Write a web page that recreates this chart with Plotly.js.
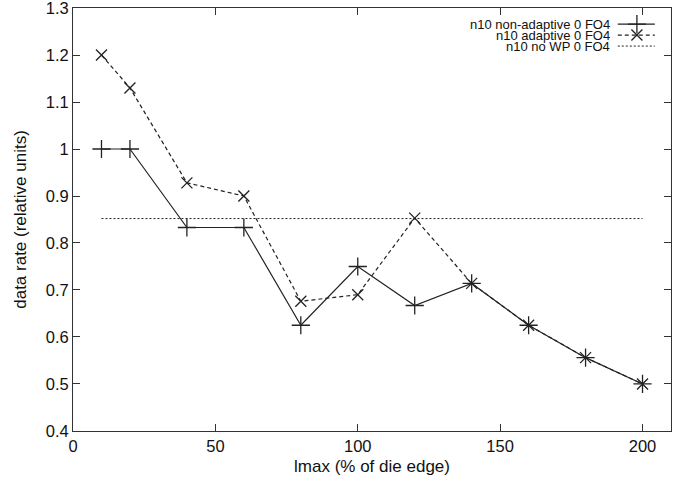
<!DOCTYPE html>
<html><head><meta charset="utf-8">
<script src="https://cdn.plot.ly/plotly-3.0.1.min.js"></script>
<style>html,body{margin:0;padding:0;background:#fff}#plot{width:690px;height:482px}</style>
</head><body><div id="plot"></div>
<script>
const xVals = [10, 20, 40, 60, 80, 100, 120, 140, 160, 180, 200];
const nonAdaptive = [1.0, 1.0, 0.833, 0.833, 0.625, 0.75, 0.667, 0.714, 0.625, 0.556, 0.5];
const adaptive = [1.2, 1.13, 0.928, 0.9, 0.676, 0.69, 0.853, 0.714, 0.625, 0.556, 0.5];
const noWPx = [10, 200];
const noWP = [0.852, 0.852];
const seriesNames = ["n10 non-adaptive 0 FO4", "n10 adaptive 0 FO4", "n10 no WP 0 FO4"];
const xTicks = [0, 50, 100, 150, 200];
const yTicks = [0.4, 0.5, 0.6, 0.7, 0.8, 0.9, 1.0, 1.1, 1.2, 1.3];
const yTickText = ["0.4", "0.5", "0.6", "0.7", "0.8", "0.9", "1", "1.1", "1.2", "1.3"];

const col = '#222';
const legY = [0.962, 0.936, 0.910];
const legMarkX = 0.943;
const traces = [
  {x: xVals, y: nonAdaptive, mode: 'lines+markers', name: seriesNames[0],
   line: {color: col, width: 1.2},
   marker: {symbol: 'cross-thin', size: 13, line: {color: col, width: 1.3}}},
  {x: xVals, y: adaptive, mode: 'lines+markers', name: seriesNames[1],
   line: {color: col, width: 1.2, dash: '4px,3px'},
   marker: {symbol: 'x-thin', size: 11, line: {color: col, width: 1.3}}},
  {x: noWPx, y: noWP, mode: 'lines', name: seriesNames[2],
   line: {color: col, width: 1, dash: '2px,2px'}},
  // legend samples on an overlay axis spanning the plot area
  {x: [legMarkX], y: [legY[0]], xaxis: 'x2', yaxis: 'y2', mode: 'markers', hoverinfo: 'skip',
   marker: {symbol: 'cross-thin', size: 13, line: {color: col, width: 1.3}}},
  {x: [legMarkX], y: [legY[1]], xaxis: 'x2', yaxis: 'y2', mode: 'markers', hoverinfo: 'skip',
   marker: {symbol: 'x-thin', size: 11, line: {color: col, width: 1.3}}}
];

const annotations = seriesNames.map((n, i) => ({
  xref: 'x2', yref: 'y2', x: 0.9, y: legY[i], text: n, showarrow: false,
  xanchor: 'right', yanchor: 'middle', borderpad: 0, font: {size: 13, color: '#111'}
}));
const shapes = seriesNames.map((n, i) => ({
  type: 'line', xref: 'x2', yref: 'y2', x0: 0.911, x1: 0.973, y0: legY[i], y1: legY[i],
  line: {color: col, width: i === 2 ? 1 : 1.2, dash: i === 1 ? '4px,3px' : (i === 2 ? '2px,2px' : 'solid')}
}));

const layout = {
  width: 690, height: 482,
  margin: {l: 73, r: 19, t: 8, b: 51},
  paper_bgcolor: '#fff', plot_bgcolor: '#fff',
  showlegend: false,
  font: {family: 'Liberation Sans, Arial, sans-serif', color: '#111'},
  xaxis: {range: [0, 210], tickvals: xTicks, ticks: 'inside', ticklen: 7, tickcolor: '#333',
    showline: true, linecolor: '#333', linewidth: 1, mirror: 'ticks', showgrid: false, zeroline: false,
    ticklabeloverflow: 'allow',
    tickfont: {size: 16.5}, title: {text: 'lmax (% of die edge)', font: {size: 17}, standoff: 6}},
  yaxis: {range: [0.3999, 1.3001], tickvals: yTicks, ticktext: yTickText, ticks: 'inside', ticklen: 7, tickcolor: '#333',
    showline: true, linecolor: '#333', linewidth: 1, mirror: 'ticks', showgrid: false, zeroline: false,
    ticklabeloverflow: 'allow',
    tickfont: {size: 16.5}, title: {text: 'data rate (relative units)', font: {size: 17}, standoff: 14}},
  xaxis2: {overlaying: 'x', range: [0, 1], visible: false, fixedrange: true},
  yaxis2: {overlaying: 'y', range: [0, 1], visible: false, fixedrange: true},
  annotations: annotations,
  shapes: shapes
};
Plotly.newPlot('plot', traces, layout, {staticPlot: true});
</script></body></html>
